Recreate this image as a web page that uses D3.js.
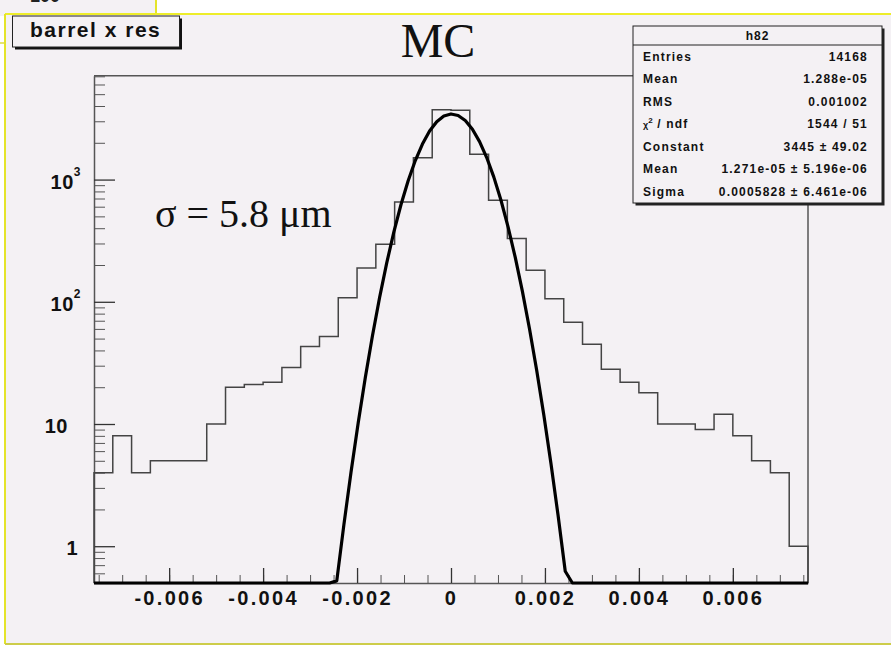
<!DOCTYPE html>
<html>
<head>
    <meta charset="utf-8"/>
    <script src="https://d3js.org/d3.v7.min.js"></script>
    <style>
        body { margin: 0; background: #fff; }
    </style>
</head>
<body>
<script>
    // histogramme h82 : 38 bins de -0.0076 a 0.0076
    var binLow = -0.0076,
        binWidth = 0.0004;
    var counts = [4, 8, 4, 5, 5, 5, 10, 20, 21, 22, 29, 43, 52, 108, 189, 296, 657, 1506, 3720, 3690,
                  1614, 678, 330, 181, 106, 68, 45, 28, 22, 18, 10, 10, 9, 12, 8, 5, 4, 1];

    // parametres du fit gaussien (boite de stats)
    var fitConstant = 3445,
        fitMean = 1.271e-05,
        fitSigma = 0.0005828;

    var xMajor = [-0.006, -0.004, -0.002, 0, 0.002, 0.004, 0.006];
    var xLabels = ["-0.006", "-0.004", "-0.002", "0", "0.002", "0.004", "0.006"];
    var yMajor = [1, 10, 100, 1000];
    var yLabels = ["1", "10", "10", "10"];
    var yExps = ["", "", "2", "3"];

    var statNames = ["Entries", "Mean", "RMS", "chi", "Constant", "Mean", "Sigma"];
    var statValues = ["14168", "1.288e-05", "0.001002", "1544 / 51", "3445 \u00b1 49.02",
                      "1.271e-05 \u00b1 5.196e-06", "0.0005828 \u00b1 6.461e-06"];

    var width = 891, height = 645;
    var padColor = "#f4f1f4";
    var sans = "'Liberation Sans', Arial, sans-serif",
        serif = "'Liberation Serif', 'Times New Roman', serif";

    var svg = d3.select("body").append("svg")
        .attr("width", width)
        .attr("height", height);

    svg.append("rect").attr("width", width).attr("height", height).attr("fill", "#fff");

    // petit bout du pad precedent en haut a gauche
    svg.append("rect").attr("x", 0).attr("y", 0).attr("width", 156).attr("height", 16).attr("fill", padColor);
    svg.append("text").attr("x", 30).attr("y", 2).style("font-family", sans).attr("font-size", 18)
        .attr("font-weight", "bold").attr("fill", "#222").text("100");
    svg.append("line").attr("x1", 156).attr("x2", 156).attr("y1", 0).attr("y2", 15)
        .attr("stroke", "#e4e42a").attr("stroke-width", 2);

    // pad principal
    svg.append("rect").attr("x", 5).attr("y", 14).attr("width", width - 5).attr("height", 630).attr("fill", padColor);
    svg.append("line").attr("x1", 5).attr("x2", width).attr("y1", 14).attr("y2", 14)
        .attr("stroke", "#eded2a").attr("stroke-width", 2);
    svg.append("line").attr("x1", 5).attr("x2", 5).attr("y1", 14).attr("y2", 644)
        .attr("stroke", "#e4e42a").attr("stroke-width", 2);
    svg.append("line").attr("x1", 5).attr("x2", width).attr("y1", 644).attr("y2", 644)
        .attr("stroke", "#cdcd4a").attr("stroke-width", 2);
    svg.append("line").attr("x1", 0).attr("x2", 5).attr("y1", 43).attr("y2", 43)
        .attr("stroke", "#dcdc40").attr("stroke-width", 1.5);

    var plotL = 94, plotR = 808, plotT = 75.7, plotB = 583;

    var x = d3.scaleLinear().domain([binLow, binLow + counts.length * binWidth]).range([plotL, plotR]);
    var y = d3.scaleLog().domain([0.5, 7080]).range([plotB, plotT]);

    // cadre
    svg.append("path")
        .attr("d", "M" + plotL + "," + plotT + "H" + plotR + "V" + plotB)
        .attr("fill", "none").attr("stroke", "#555").attr("stroke-width", 1.5);

    // axe x
    var xMinor = d3.range(-15, 16).map(function (i) { return i * 0.0005; });
    svg.append("g").attr("transform", "translate(0," + plotB + ")")
        .call(d3.axisBottom(x).tickValues(xMinor).tickSize(-8).tickFormat("").tickSizeOuter(0))
        .call(function (g) { g.selectAll("line").attr("stroke", "#555"); g.select(".domain").attr("stroke", "#555").attr("stroke-width", 1.5); });
    var gx = svg.append("g").attr("transform", "translate(0," + plotB + ")")
        .call(d3.axisBottom(x).tickValues(xMajor).tickSize(-15).tickSizeOuter(0)
            .tickFormat(function (d, i) { return xLabels[i]; }));
    gx.select(".domain").remove();
    gx.selectAll("line").attr("stroke", "#333").attr("stroke-width", 1.3);
    gx.selectAll("text")
        .attr("y", 22).attr("dy", 0)
        .style("font-family", sans)
        .attr("font-size", 20).attr("font-weight", "bold")
        .attr("letter-spacing", "2.3px")
        .attr("fill", "#111");

    // axe y (log)
    var yMinor = [];
    [0.1, 1, 10, 100, 1000].forEach(function (dec) {
        for (var k = 2; k <= 9; k++) {
            var v = k * dec;
            if (v > 0.5 && v < 7080) yMinor.push(v);
        }
    });
    svg.append("g").attr("transform", "translate(" + plotL + ",0)")
        .call(d3.axisLeft(y).tickValues(yMinor).tickSize(-11).tickFormat("").tickSizeOuter(0))
        .call(function (g) { g.selectAll("line").attr("stroke", "#555"); g.select(".domain").attr("stroke", "#555").attr("stroke-width", 1.5); });
    var gy = svg.append("g").attr("transform", "translate(" + plotL + ",0)")
        .call(d3.axisLeft(y).tickValues(yMajor).tickSize(-21).tickFormat("").tickSizeOuter(0));
    gy.select(".domain").remove();
    gy.selectAll("line").attr("stroke", "#333").attr("stroke-width", 1.3);
    gy.selectAll(".tick").each(function (d, i) {
        var t = d3.select(this).append("text")
            .attr("x", yExps[i] ? -13 : (yLabels[i].length > 1 ? -26 : -16))
            .attr("y", yExps[i] ? 9 : 8)
            .attr("text-anchor", "end")
            .style("font-family", sans)
            .attr("font-size", 20).attr("font-weight", "bold")
            .attr("letter-spacing", "0.5px")
            .attr("fill", "#111");
        t.append("tspan").text(yLabels[i]);
        if (yExps[i]) {
            t.append("tspan").attr("font-size", 12).attr("dy", -13).text(yExps[i]);
        }
    });

    // histogramme
    var histPts = [[x(binLow), y(0.5)]];
    counts.forEach(function (c, i) {
        var lo = binLow + i * binWidth;
        histPts.push([x(lo), y(c)]);
        histPts.push([x(lo + binWidth), y(c)]);
    });
    histPts.push([x(binLow + counts.length * binWidth), y(0.5)]);
    svg.append("path")
        .attr("d", d3.line()(histPts))
        .attr("fill", "none").attr("stroke", "#444").attr("stroke-width", 1.5);

    // fonction de fit (100 points, coupee au minimum de l'axe)
    var fitX = d3.range(0, 101).map(function (i) { return binLow + i * (counts.length * binWidth) / 100; });
    var fitLine = d3.line()
        .x(function (d) { return x(d); })
        .y(function (d) {
            var v = fitConstant * Math.exp(-0.5 * Math.pow((d - fitMean) / fitSigma, 2));
            return y(Math.max(v, 0.5));
        });
    svg.append("path")
        .attr("d", fitLine(fitX))
        .attr("fill", "none").attr("stroke", "#000").attr("stroke-width", 3.2).attr("stroke-linejoin", "round");

    // titre
    svg.append("text").attr("x", 438).attr("y", 57).attr("text-anchor", "middle")
        .style("font-family", serif)
        .attr("font-size", 48).attr("fill", "#111").text("MC");

    svg.append("text").attr("x", 155).attr("y", 227)
        .style("font-family", serif)
        .attr("font-size", 40).attr("fill", "#111").text("\u03c3 = 5.8 \u03bcm");

    // boite "barrel x res"
    svg.append("rect").attr("x", 15).attr("y", 18.5).attr("width", 167).attr("height", 31).attr("fill", "#111");
    svg.append("rect").attr("x", 12.5).attr("y", 16).attr("width", 167).attr("height", 31)
        .attr("fill", padColor).attr("stroke", "#222").attr("stroke-width", 1);
    svg.append("text").attr("x", 30).attr("y", 37).style("font-family", sans)
        .attr("font-size", 21).attr("font-weight", "bold")
        .attr("letter-spacing", "1.5px").attr("fill", "#111").text("barrel x res");

    // boite de stats
    var sx = 633, sy = 26, sw = 249, sh = 177;
    svg.append("rect").attr("x", sx + 2.5).attr("y", sy + 2.5).attr("width", sw).attr("height", sh).attr("fill", "#222");
    svg.append("rect").attr("x", sx).attr("y", sy).attr("width", sw).attr("height", sh)
        .attr("fill", padColor).attr("stroke", "#222").attr("stroke-width", 1);
    svg.append("line").attr("x1", sx).attr("x2", sx + sw).attr("y1", 45).attr("y2", 45)
        .attr("stroke", "#222").attr("stroke-width", 1);
    svg.append("text").attr("x", sx + sw / 2).attr("y", 39.5).attr("text-anchor", "middle")
        .style("font-family", sans)
        .attr("font-size", 12).attr("font-weight", "bold").attr("letter-spacing", "1px")
        .attr("fill", "#111").text("h82");

    var rows = svg.append("g").selectAll("g").data(statNames).join("g")
        .attr("transform", function (d, i) { return "translate(0," + (60.5 + i * 22.5) + ")"; });
    rows.append("text").attr("x", 643).style("font-family", sans)
        .attr("font-size", 12).attr("font-weight", "bold").attr("letter-spacing", "1.2px").attr("fill", "#111")
        .each(function (d) {
            var t = d3.select(this);
            if (d === "chi") {
                t.append("tspan").attr("font-size", 9).attr("letter-spacing", "0px").text("\u03c7");
                t.append("tspan").attr("font-size", 8).attr("dy", -5).attr("letter-spacing", "0px").text("2");
                t.append("tspan").attr("dy", 5).text(" / ndf");
            } else {
                t.text(d);
            }
        });
    rows.append("text").attr("x", 868).attr("text-anchor", "end").style("font-family", sans)
        .attr("font-size", 12).attr("font-weight", "bold").attr("letter-spacing", "1.2px").attr("fill", "#111")
        .text(function (d, i) { return statValues[i]; });
</script>
</body>
</html>
